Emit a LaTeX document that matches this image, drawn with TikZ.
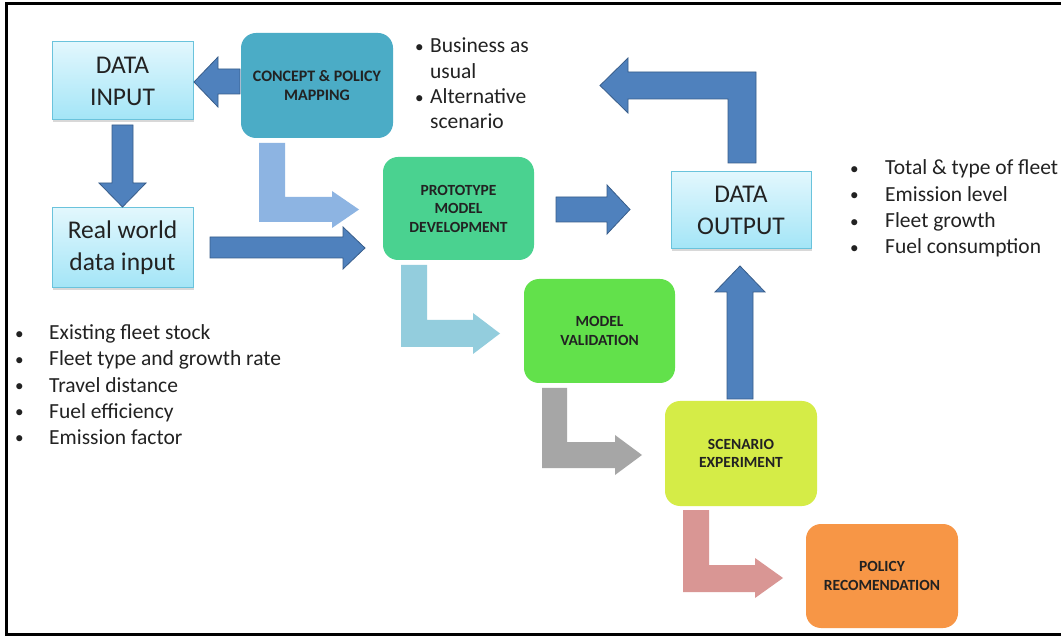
\documentclass[tikz,border=0pt]{standalone}
\usepackage{fontspec}
\setmainfont{Carlito}
\usetikzlibrary{shadows}
\definecolor{dtop}{HTML}{E2F7FD}
\definecolor{dbottom}{HTML}{A3E5F7}
\definecolor{dborder}{HTML}{6AC3DC}
\definecolor{cpfill}{HTML}{4BACC6}
\definecolor{pmfill}{HTML}{4AD290}
\definecolor{mvfill}{HTML}{62E14B}
\definecolor{sefill}{HTML}{D5EC47}
\definecolor{prfill}{HTML}{F79646}
\definecolor{ablue}{HTML}{4F81BD}
\definecolor{aborder}{HTML}{385D8A}
\definecolor{lblue}{HTML}{8DB4E2}
\definecolor{lteal}{HTML}{93CDDD}
\definecolor{lgray}{HTML}{A6A6A6}
\definecolor{lpink}{HTML}{D99694}
\definecolor{txt}{HTML}{222222}
\newcommand{\bul}[1]{\makebox[#1][l]{\raisebox{0.5pt}{\scalebox{0.8}{•}}}}
\begin{document}
\begin{tikzpicture}[x=1pt,y=-1pt,
  databox/.style={draw=dborder, line width=1pt, top color=dtop, bottom color=dbottom,
    drop shadow={shadow xshift=1pt,shadow yshift=-2pt,opacity=0.3},
    minimum width=141pt, minimum height=78pt, inner sep=0pt, align=center,
    font=\fontsize{25.5}{32}\selectfont, text=txt},
  stepbox/.style={rounded corners=15pt, draw=none, inner sep=0pt, align=center,
    minimum width=152pt, minimum height=104pt,
    font=\fontsize{15.5}{18.5}\selectfont\bfseries, text=txt},
  listtext/.style={anchor=base west, inner sep=0pt, font=\fontsize{21.5}{26}\selectfont, text=txt},
  bluearrow/.style={fill=ablue, draw=aborder, line width=0.8pt, line join=miter},
  flatarrow/.style={draw=none}
]
\useasboundingbox (0,0) rectangle (1061,636);
\fill[white] (0,0) rectangle (1061,636);
\draw[line width=3pt] (1061,4) -- (6,4) -- (6,634) -- (1061,634);

% boxes
\node[databox] (di) at (122.5,81) {DATA\\INPUT};
\node[databox, minimum height=80pt] (rw) at (122.5,248) {Real world\\data input};
\node[databox, minimum width=140pt, minimum height=77pt] (do) at (741,210.5) {DATA\\OUTPUT};
\node[stepbox, fill=cpfill, minimum height=105pt, font=\fontsize{16}{19}\selectfont\bfseries] (cp) at (317,85.5) {CONCEPT \& POLICY\\MAPPING};
\node[stepbox, fill=pmfill, minimum width=151pt, minimum height=103pt] (pm) at (458.5,208.5) {PROTOTYPE\\MODEL\\DEVELOPMENT};
\node[stepbox, fill=mvfill, minimum width=151pt] (mv) at (599.5,331) {MODEL\\VALIDATION};
\node[stepbox, fill=sefill, minimum height=105pt] (se) at (741,453.5) {SCENARIO\\EXPERIMENT};
\node[stepbox, fill=prfill] (pr) at (882,576) {POLICY\\RECOMENDATION};

% straight block arrows
\draw[bluearrow] (240,69) -- (218,69) -- (218,57) -- (194,82) -- (218,107) -- (218,94) -- (240,94) -- cycle;
\draw[bluearrow] (112,125) -- (133,125) -- (133,183) -- (146,183) -- (122.5,207) -- (99,183) -- (112,183) -- cycle;
\draw[bluearrow] (210,237) -- (343,237) -- (343,227) -- (365,248) -- (343,269) -- (343,258) -- (210,258) -- cycle;
\draw[bluearrow] (556,197) -- (607,197) -- (607,185) -- (630,209.5) -- (607,234) -- (607,222) -- (556,222) -- cycle;
\draw[bluearrow] (727,399) -- (727,292) -- (715,292) -- (740,266) -- (765,292) -- (753,292) -- (753,399) -- cycle;
% big L back arrow
\draw[bluearrow] (728,163) -- (756,163) -- (756,72) -- (628,72) -- (628,58) -- (600,85.5) -- (628,113) -- (628,99) -- (728,99) -- cycle;

% L-shaped flow arrows
\fill[lblue] (259,143) -- (285,143) -- (285,197) -- (332,197) -- (332,191) -- (359,209.5) -- (332,228) -- (332,222) -- (259,222) -- cycle;
\fill[lteal] (401,265) -- (427,265) -- (427,320) -- (473,320) -- (473,313) -- (500,333.5) -- (473,354) -- (473,347) -- (401,347) -- cycle;
\fill[lgray] (542,388) -- (567,388) -- (567,442) -- (615,442) -- (615,435) -- (642,455) -- (615,475) -- (615,468) -- (542,468) -- cycle;
\fill[lpink] (683,510) -- (709,510) -- (709,565) -- (755,565) -- (755,558) -- (783,578) -- (755,598) -- (755,592) -- (683,592) -- cycle;

% bullet lists
\node[listtext] (t1) at (415,53) {\bul{15pt}Business as};
\node[listtext] (t2) at (430,78.5) {usual};
\node[listtext] (t3) at (415,104) {\bul{15pt}Alternative};
\node[listtext] (t4) at (430,129) {scenario};

\node[listtext] (r1) at (850,175) {\bul{35pt}Total \& type of fleet};
\node[listtext] (r2) at (850,201.5) {\bul{35pt}Emission level};
\node[listtext] (r3) at (850,228) {\bul{35pt}Fleet growth};
\node[listtext] (r4) at (850,254) {\bul{35pt}Fuel consumption};

\node[listtext] (l1) at (15,340) {\bul{34pt}Existing fleet stock};
\node[listtext] (l2) at (15,366) {\bul{34pt}Fleet type and growth rate};
\node[listtext] (l3) at (15,392) {\bul{34pt}Travel distance};
\node[listtext] (l4) at (15,418) {\bul{34pt}Fuel efficiency};
\node[listtext] (l5) at (15,444) {\bul{34pt}Emission factor};
\end{tikzpicture}
\end{document}
